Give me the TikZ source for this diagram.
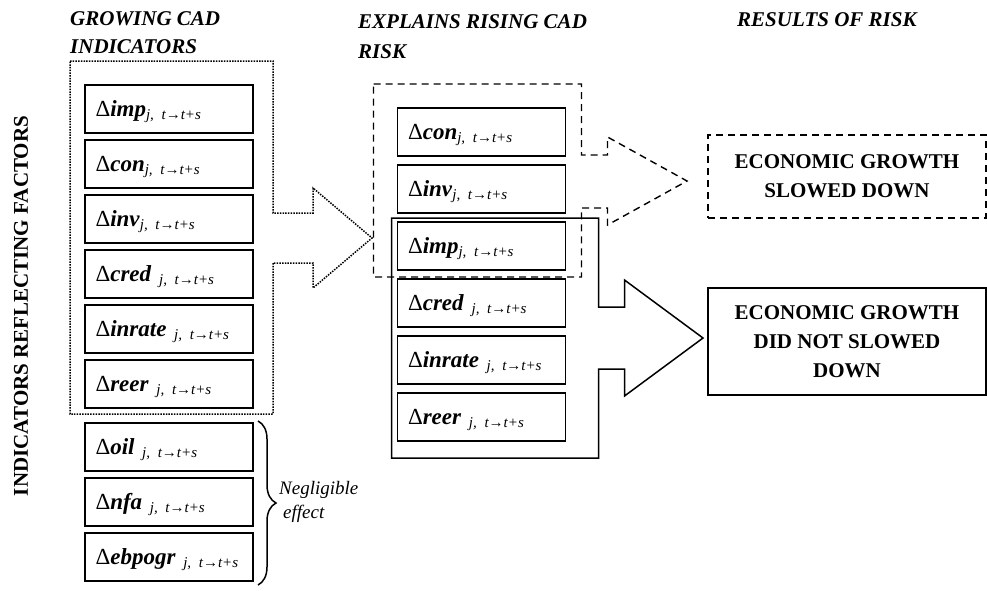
\documentclass[tikz,border=0pt]{standalone}
\usepackage{fontspec}
\setmainfont{Liberation Serif}
\usetikzlibrary{calc,positioning,decorations.pathreplacing}
\newcommand\subjts{\raisebox{-3pt}{\fontsize{15}{15}\selectfont\itshape j, t→t+s}}
\newcommand\dvar[2][]{Δ\textbf{\textit{#2}}#1\subjts}
\tikzset{
	ind box/.style={draw, line width=1.5pt, outer sep=0pt,
		minimum width=168pt, minimum height=48pt, text width=147pt, inner xsep=10.5pt,
		align=left, text height=16pt, text depth=1pt, font=\fontsize{23}{25}\selectfont},
	head/.style={inner sep=0pt, align=left, font=\fontsize{21}{28}\selectfont\bfseries\itshape},
	res box/.style={draw, line width=1.5pt, outer sep=0pt, minimum width=278pt,
		align=center, font=\fontsize{21}{29}\selectfont\bfseries},
	frame dotted/.style={line width=1.5pt, dash pattern=on 1.5pt off 1.2pt},
	frame dashed/.style={line width=1.4pt, dash pattern=on 7pt off 5pt},
	frame solid/.style={line width=1.5pt}
}

\begin{document}
\begin{tikzpicture}[x=1pt, y=-1pt, node distance=7pt]
	\useasboundingbox (0,0) rectangle (987,590);
	% headers
	\node[head, anchor=north west] (hG) at (70,11) {GROWING CAD\\INDICATORS};
	\node[head, anchor=north west, font=\fontsize{21}{30}\selectfont\bfseries\itshape] (hE) at (358,14) {EXPLAINS RISING CAD\\RISK};
	\node[head, anchor=base west] (hR) at (737,26) {RESULTS OF RISK};
	\node[rotate=90, font=\fontsize{21}{25}\selectfont\bfseries] (side) at (21,306) {INDICATORS REFLECTING FACTORS};
	% left column
	\node[ind box] (g1) at (169,109) {\dvar{imp}};
	\node[ind box, below=of g1] (g2) {\dvar{con}};
	\node[ind box, below=of g2] (g3) {\dvar{inv}};
	\node[ind box, below=of g3] (g4) {\dvar[\ ]{cred}};
	\node[ind box, below=of g4] (g5) {\dvar[\ ]{inrate}};
	\node[ind box, below=of g5] (g6) {\dvar[\ ]{reer}};
	\node[ind box, below=15pt of g6] (g7) {\dvar[\ ]{oil}};
	\node[ind box, below=of g7] (g8) {\dvar[\ ]{nfa}};
	\node[ind box, below=of g8] (g9) {\dvar[\ ]{ebpogr}};
	% middle column
	\node[ind box] (e1) at (481.5,132) {\dvar{con}};
	\node[ind box, below=9pt of e1] (e2) {\dvar{inv}};
	\node[ind box, below=9pt of e2] (e3) {\dvar{imp}};
	\node[ind box, below=9pt of e3] (e4) {\dvar[\ ]{cred}};
	\node[ind box, below=9pt of e4] (e5) {\dvar[\ ]{inrate}};
	\node[ind box, below=9pt of e5] (e6) {\dvar[\ ]{reer}};
	% results
	\node[res box, frame dashed, minimum height=83pt] (r1) at (847,176.5) {ECONOMIC GROWTH\\SLOWED DOWN};
	\node[res box, minimum height=107pt] (r2) at (847,341.5) {ECONOMIC GROWTH\\DID NOT SLOWED\\DOWN};
	% frames with arrows
	\coordinate (gNW) at ($(g1.north west)+(-15,-24)$);
	\coordinate (gSE) at ($(g6.south east)+(20,6)$);
	\coordinate (gTip) at (372,238);
	\draw[frame dotted] (gNW) -| ($(gSE |- gTip)+(0,-25)$) -- ++(40,0) -- ++(0,-25) -- (gTip)
		-- ($(gSE |- gTip)+(40,50)$) -- ++(0,-25) -- ++(-40,0) -- (gSE) -- (gNW |- gSE) -- cycle;
	\coordinate (eNW) at ($(e1.north west)+(-24,-24)$);
	\coordinate (eSE) at ($(e3.south east)+(16,7)$);
	\coordinate (eTip) at (687,181);
	\draw[frame dashed] (eNW) -| ($(eSE |- eTip)+(0,-26)$) -- ++(26,0) -- ++(0,-18) -- (eTip)
		-- ($(eSE |- eTip)+(26,44)$) -- ++(0,-17) -- ++(-26,0) -- (eSE) -- (eNW |- eSE) -- cycle;
	\coordinate (sNW) at ($(e3.north west)+(-6,-4)$);
	\coordinate (sSE) at ($(e6.south east)+(33,17)$);
	\coordinate (sTip) at (703,338);
	\draw[frame solid] (sNW) -| ($(sSE |- sTip)+(0,-31)$) -- ++(26,0) -- ++(0,-27) -- (sTip)
		-- ($(sSE |- sTip)+(26,58)$) -- ++(0,-27) -- ++(-26,0) -- (sSE) -- (sNW |- sSE) -- cycle;
	% brace
	\draw[decorate, decoration={brace, amplitude=18pt}, line width=1.5pt]
		($(g7.north east)+(5,-2)$) -- ($(g9.south east)+(5,4)$);
	\node[anchor=west, align=left, inner sep=0pt, font=\fontsize{19}{24}\selectfont\itshape] (neg)
		at ($(g8.east)+(26,0)$) {Negligible\\\hspace{4pt}effect};
\end{tikzpicture}
\end{document}
